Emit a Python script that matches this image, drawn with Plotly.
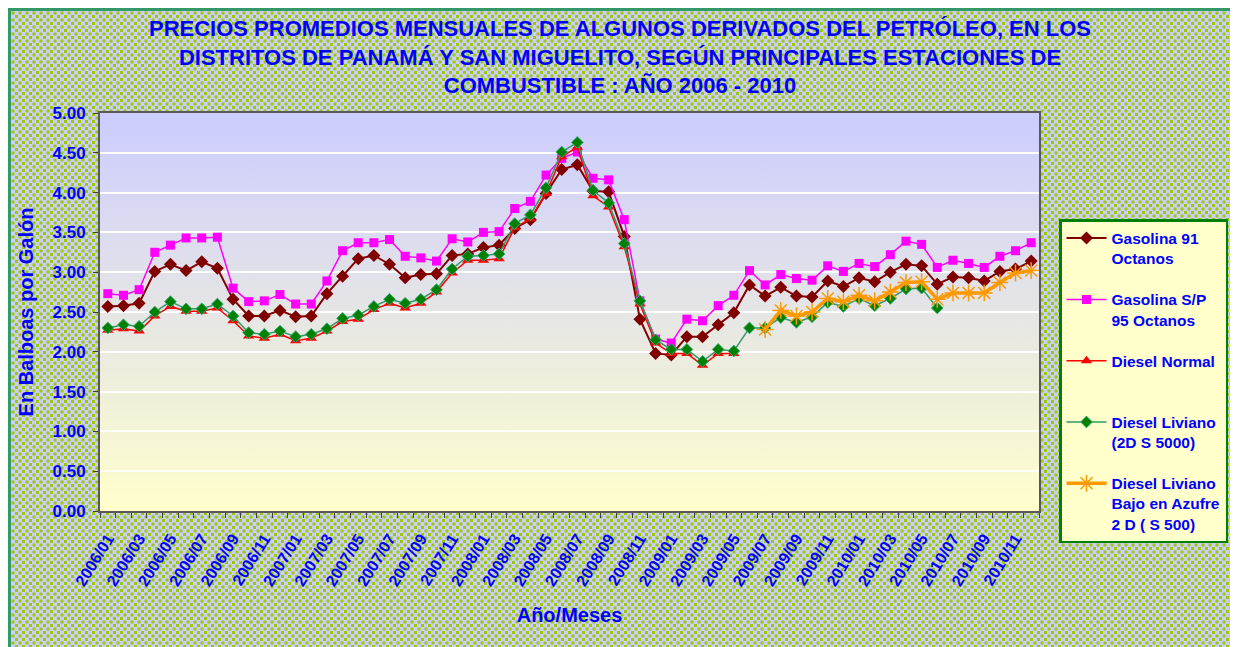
import base64
import numpy as np
import plotly.graph_objects as go

# ---------------- data ----------------
months = [f"{y}/{m:02d}" for y in range(2006, 2011) for m in range(1, 13)]

gasolina_91 = [2.57, 2.58, 2.61, 3.01, 3.10, 3.02, 3.13, 3.05, 2.66, 2.45,
               2.45, 2.52, 2.44, 2.45, 2.73, 2.95, 3.17, 3.21, 3.10, 2.93,
               2.97, 2.98, 3.21, 3.23, 3.31, 3.34, 3.55, 3.66, 3.99, 4.29,
               4.35, 4.02, 4.01, 3.45, 2.41, 1.98, 1.96, 2.19, 2.19, 2.34,
               2.49, 2.84, 2.70, 2.81, 2.70, 2.69, 2.89, 2.82, 2.93, 2.88,
               3.00, 3.10, 3.08, 2.85, 2.94, 2.93, 2.89, 3.01, 3.04, 3.14]

gasolina_95 = [2.73, 2.71, 2.78, 3.25, 3.34, 3.43, 3.43, 3.44, 2.80, 2.63,
               2.64, 2.72, 2.60, 2.60, 2.89, 3.27, 3.37, 3.37, 3.41, 3.20,
               3.18, 3.14, 3.42, 3.38, 3.50, 3.51, 3.80, 3.89, 4.22, 4.43,
               4.51, 4.18, 4.16, 3.66, 2.64, 2.16, 2.11, 2.41, 2.39, 2.58,
               2.71, 3.02, 2.84, 2.97, 2.92, 2.90, 3.08, 3.01, 3.11, 3.07,
               3.22, 3.39, 3.35, 3.06, 3.15, 3.11, 3.06, 3.20, 3.27, 3.37]

diesel_normal = [2.27, 2.29, 2.26, 2.45, 2.57, 2.51, 2.51, 2.55, 2.39, 2.20,
                 2.17, 2.22, 2.14, 2.17, 2.26, 2.38, 2.41, 2.53, 2.61, 2.55,
                 2.61, 2.75, 2.99, 3.15, 3.15, 3.17, 3.56, 3.67, 3.99, 4.45,
                 4.57, 3.96, 3.82, 3.32, 2.60, 2.11, 1.98, 1.98, 1.83, 1.98,
                 1.98] + [None] * 19

diesel_liviano = [2.30, 2.34, 2.32, 2.50, 2.63, 2.54, 2.54, 2.60, 2.45, 2.24,
                  2.22, 2.26, 2.19, 2.22, 2.29, 2.42, 2.46, 2.57, 2.66, 2.61,
                  2.66, 2.78, 3.04, 3.20, 3.21, 3.23, 3.61, 3.72, 4.06, 4.51,
                  4.63, 4.03, 3.87, 3.36, 2.64, 2.15, 2.03, 2.03, 1.88, 2.03,
                  2.01, 2.30, 2.30, 2.43, 2.37, 2.44, 2.62, 2.57, 2.67, 2.58,
                  2.67, 2.79, 2.80, 2.55] + [None] * 6

diesel_bajo_azufre = [None] * 42 + [2.28, 2.52, 2.45, 2.50, 2.67, 2.63, 2.71, 2.64,
                                    2.75, 2.87, 2.88, 2.66, 2.74, 2.74, 2.74, 2.87,
                                    2.99, 3.02]

y_ticks = [0.0, 0.5, 1.0, 1.5, 2.0, 2.5, 3.0, 3.5, 4.0, 4.5, 5.0]

# ---------------- figure ----------------
x = np.arange(len(months))
BLUE = "#0000FF"
FONT = "Liberation Sans, Arial, sans-serif"

fig = go.Figure()
fig.add_trace(go.Scatter(x=x, y=gasolina_91, name="Gasolina 91<br>Octanos",
                         mode="lines+markers", legendgroup="a",
                         line=dict(color="#800000", width=2),
                         marker=dict(symbol="diamond", size=10, color="#800000")))
fig.add_trace(go.Scatter(x=x, y=gasolina_95, name="Gasolina S/P<br>95 Octanos",
                         mode="lines+markers", legendgroup="b",
                         line=dict(color="#FF00FF", width=1.5),
                         marker=dict(symbol="square", size=9, color="#FF00FF")))
fig.add_trace(go.Scatter(x=x, y=diesel_normal, name="Diesel Normal<br>&nbsp;",
                         mode="lines+markers", legendgroup="c",
                         line=dict(color="#FF0000", width=1.5),
                         marker=dict(symbol="triangle-up", size=10, color="#FF0000")))
fig.add_trace(go.Scatter(x=x, y=diesel_liviano, name="Diesel Liviano<br>(2D S 5000)",
                         mode="lines+markers", legendgroup="d",
                         line=dict(color="#339966", width=1.5),
                         marker=dict(symbol="diamond", size=9, color="#008000",
                                     line=dict(color="#33AA77", width=1))))
fig.add_trace(go.Scatter(x=x, y=diesel_bajo_azufre,
                         name="Diesel Liviano<br>Bajo en Azufre<br>2 D ( S 500)",
                         mode="lines+markers", legendgroup="e",
                         line=dict(color="#FF9900", width=3.5),
                         marker=dict(symbol="asterisk-open", size=14,
                                     line=dict(color="#FF9900", width=1.5))))

# layout geometry (figure pixels)
W, H = 1238, 647
L, R, T, B = 92, 207, 105, 144
PW, PH = W - L - R, H - T - B


def px_x(v):
    return (v - L) / PW


def px_y(v):
    return (H - B - v) / PH


pattern_svg = (
    f"<svg xmlns='http://www.w3.org/2000/svg' width='{W}' height='{H}'>"
    "<defs><pattern id='p' width='7' height='7' patternUnits='userSpaceOnUse'>"
    "<rect width='7' height='7' fill='#CCCCFF'/>"
    "<rect x='0' y='0' width='3' height='3' fill='#99CC00'/>"
    "<rect x='3.5' y='3.5' width='3' height='3' fill='#99CC00'/>"
    "</pattern></defs><rect width='100%' height='100%' fill='url(#p)'/></svg>"
)
grad_svg = (
    f"<svg xmlns='http://www.w3.org/2000/svg' width='{PW}' height='{PH}'>"
    "<defs><linearGradient id='g' x1='0' y1='0' x2='0' y2='1'>"
    "<stop offset='0' stop-color='#CCCCFF'/><stop offset='1' stop-color='#FFFFCC'/>"
    "</linearGradient></defs><rect width='100%' height='100%' fill='url(#g)'/></svg>"
)


def uri(s):
    return "data:image/svg+xml;base64," + base64.b64encode(s.encode()).decode()


fig.add_layout_image(source=uri(pattern_svg), xref="paper", yref="paper",
                     x=px_x(0), y=px_y(0), sizex=W / PW, sizey=H / PH,
                     xanchor="left", yanchor="top", sizing="stretch", layer="below")
fig.add_layout_image(source=uri(grad_svg), xref="paper", yref="paper",
                     x=0, y=1, sizex=1, sizey=1, xanchor="left", yanchor="top",
                     sizing="stretch", layer="below")

# outer chart border
fig.add_shape(type="rect", xref="paper", yref="paper",
              x0=px_x(1.5), x1=px_x(W + 30), y0=px_y(H + 30), y1=px_y(1.5),
              line=dict(color="#339966", width=3), layer="above")

fig.update_layout(
    width=W, height=H,
    margin=dict(l=L, r=R, t=T, b=B, autoexpand=False),
    paper_bgcolor="white",
    plot_bgcolor="rgba(0,0,0,0)",
    font=dict(family=FONT, color=BLUE),
    title=dict(
        text="PRECIOS PROMEDIOS MENSUALES DE ALGUNOS DERIVADOS DEL PETRÓLEO, EN LOS<br>"
             "DISTRITOS DE PANAMÁ Y SAN MIGUELITO, SEGÚN PRINCIPALES ESTACIONES DE<br>"
             "COMBUSTIBLE : AÑO 2006 - 2010",
        x=612 / W, xref="container", xanchor="center",
        y=1 - 28 / H, yref="container", yanchor="top",
        font=dict(size=22, color=BLUE, family=FONT, weight="bold"),
    ),
    showlegend=True,
    legend=dict(
        x=px_x(1051), y=px_y(211), xanchor="left", yanchor="top",
        bgcolor="#FFFFCC", bordercolor="#008000", borderwidth=2.5,
        font=dict(size=15.5, color=BLUE, family=FONT, weight="bold"),
        valign="top", tracegroupgap=18, itemwidth=40,
    ),
)

fig.update_xaxes(
    range=[-0.5, len(months) - 0.5],
    tickmode="array", tickvals=x[::2], ticktext=months[::2],
    tickangle=-58, ticks="", ticklabelstandoff=10,
    tickfont=dict(size=16, color=BLUE, family=FONT, weight="bold"),
    minor=dict(tickmode="linear", tick0=-0.5, dtick=1, ticks="outside",
               ticklen=5, tickcolor="#404040", showgrid=False),
    showgrid=False, showline=True, linecolor="#595959", linewidth=2, mirror=True,
    zeroline=False, automargin=False,
    title=dict(text="Año/Meses", standoff=20,
               font=dict(size=20, color=BLUE, family=FONT, weight="bold")),
)
fig.update_yaxes(
    range=[0, 5], tickmode="array", tickvals=y_ticks, tickformat=".2f",
    ticks="outside", ticklen=5, tickcolor="#404040", ticklabelstandoff=4,
    tickfont=dict(size=17, color=BLUE, family=FONT, weight="bold"),
    showgrid=True, gridcolor="white", gridwidth=2,
    showline=True, linecolor="#595959", linewidth=2, mirror=True,
    zeroline=False, automargin=False,
    title=dict(text="En Balboas por Galón", standoff=14,
               font=dict(size=20, color=BLUE, family=FONT, weight="bold")),
)

fig.write_html("out.html")
